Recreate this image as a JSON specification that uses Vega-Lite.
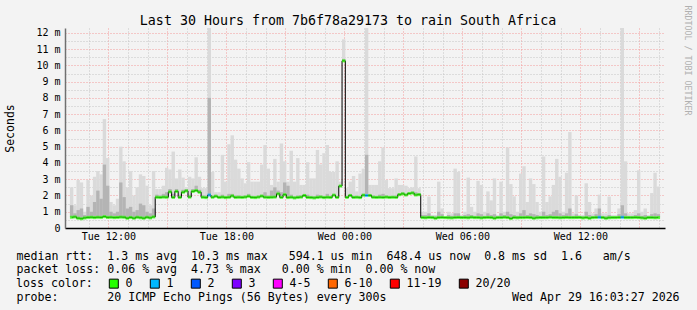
{
  "$schema": "https://vega.github.io/schema/vega-lite/v6.json",
  "width": 600,
  "height": 200,
  "autosize": {"type": "none"},
  "padding": {"left": 65, "top": 28, "right": 32, "bottom": 82},
  "background": "#f3f3f3",
  "config": {"view": {"fill": "white", "stroke": null}, "font": "DejaVu Sans Mono"},
  "title": {"text": "Last 30 Hours from 7b6f78a29173 to rain South Africa", "font": "DejaVu Sans Mono", "fontSize": 13.3, "fontWeight": "normal", "color": "black", "anchor": "middle", "dx": -17, "dy": 26, "offset": 4},
  "datasets": {
    "s": [
      {"t":608,"m":0.66,"h":2.5,"d":1.4},{"t":618,"m":0.68,"h":1.4,"d":0.9},{"t":628,"m":0.6,"h":2.95,"d":1.1},{"t":638,"m":0.57,"h":2.8,"d":1.2},
      {"t":648,"m":0.62,"h":1.0,"d":0.8},{"t":658,"m":0.65,"h":2.95,"d":1.3},{"t":668,"m":0.66,"h":2.0,"d":1.0},{"t":678,"m":0.64,"h":3.15,"d":1.6},
      {"t":688,"m":0.66,"h":3.5,"d":2.3},{"t":698,"m":0.65,"h":3.3,"d":1.8},{"t":708,"m":0.7,"h":6.7,"d":3.9},{"t":718,"m":0.65,"h":4.3,"d":2.6},
      {"t":728,"m":0.66,"h":1.6,"d":1.0},{"t":738,"m":0.64,"h":1.4,"d":0.9},{"t":748,"m":0.65,"h":1.8,"d":1.0},{"t":758,"m":0.67,"h":5.0,"d":2.8},
      {"t":768,"m":0.66,"h":4.1,"d":1.9},{"t":778,"m":0.6,"h":2.5,"d":1.2},{"t":788,"m":0.65,"h":3.5,"d":1.3},{"t":798,"m":0.6,"h":2.0,"d":1.0},
      {"t":808,"m":0.66,"h":2.5,"d":1.1},{"t":818,"m":0.63,"h":3.3,"d":1.5},{"t":828,"m":0.6,"h":3.2,"d":1.4},{"t":838,"m":0.66,"h":2.6,"d":1.0},
      {"t":848,"m":0.62,"h":1.4,"d":0.9},{"t":858,"m":0.68,"h":3.5,"d":1.2},{"t":868,"m":1.89,"h":2.4,"d":2.05},{"t":878,"m":1.88,"h":2.4,"d":2.0},
      {"t":888,"m":1.9,"h":2.6,"d":2.1},{"t":898,"m":1.89,"h":3.7,"d":2.2},{"t":908,"m":2.22,"h":3.6,"d":2.4},{"t":918,"m":1.88,"h":4.7,"d":2.1},
      {"t":928,"m":2.25,"h":3.05,"d":2.4},{"t":938,"m":1.88,"h":3.6,"d":2.05},{"t":948,"m":2.2,"h":3.1,"d":2.35},{"t":958,"m":2.28,"h":2.45,"d":2.4},
      {"t":968,"m":1.9,"h":3.15,"d":2.05},{"t":978,"m":2.25,"h":3.05,"d":2.4},{"t":988,"m":2.3,"h":4.35,"d":2.6},{"t":998,"m":2.2,"h":3.15,"d":2.35},
      {"t":1008,"m":1.89,"h":2.45,"d":2.0},{"t":1018,"m":1.87,"h":2.45,"d":2.0},{"t":1028,"m":2.03,"h":12.3,"d":8.0,"p":1},{"t":1038,"m":1.89,"h":3.45,"d":2.0},
      {"t":1048,"m":1.95,"h":2.2,"d":2.05},{"t":1058,"m":1.88,"h":2.2,"d":1.98},{"t":1068,"m":1.9,"h":4.5,"d":2.05},{"t":1078,"m":1.87,"h":2.85,"d":1.98},
      {"t":1088,"m":1.89,"h":5.15,"d":2.1},{"t":1098,"m":1.97,"h":5.7,"d":2.1},{"t":1108,"m":1.88,"h":4.2,"d":2.0},{"t":1118,"m":1.89,"h":3.65,"d":2.0},
      {"t":1128,"m":1.88,"h":3.05,"d":1.98},{"t":1138,"m":1.9,"h":2.75,"d":2.0},{"t":1148,"m":1.95,"h":4.05,"d":2.1},{"t":1158,"m":1.88,"h":2.85,"d":1.98},
      {"t":1168,"m":1.87,"h":2.85,"d":1.98},{"t":1178,"m":1.9,"h":2.85,"d":2.0},{"t":1188,"m":1.96,"h":3.9,"d":2.05},{"t":1198,"m":1.89,"h":5.1,"d":2.2},
      {"t":1208,"m":1.88,"h":3.65,"d":2.0},{"t":1218,"m":1.89,"h":2.65,"d":2.3},{"t":1228,"m":1.9,"h":4.25,"d":2.5},{"t":1238,"m":2.1,"h":2.85,"d":2.3},
      {"t":1248,"m":1.88,"h":5.2,"d":2.2},{"t":1258,"m":2.05,"h":4.1,"d":2.8},{"t":1268,"m":1.87,"h":2.85,"d":2.6},{"t":1278,"m":1.89,"h":4.75,"d":2.05},
      {"t":1288,"m":1.85,"h":2.85,"d":1.95},{"t":1298,"m":1.88,"h":4.3,"d":2.0},{"t":1308,"m":1.9,"h":2.65,"d":2.0},{"t":1318,"m":2.0,"h":2.65,"d":2.1},
      {"t":1328,"m":1.88,"h":4.05,"d":2.05},{"t":1338,"m":1.87,"h":3.05,"d":1.98},{"t":1348,"m":1.85,"h":3.05,"d":1.95},{"t":1358,"m":1.88,"h":4.8,"d":2.05},
      {"t":1368,"m":1.9,"h":3.9,"d":2.0},{"t":1378,"m":1.87,"h":4.6,"d":1.98},{"t":1388,"m":1.89,"h":5.1,"d":2.1},{"t":1398,"m":1.88,"h":3.45,"d":1.98},
      {"t":1408,"m":2.02,"h":3.45,"d":2.1},{"t":1418,"m":1.88,"h":4.1,"d":1.98},{"t":1428,"m":2.58,"h":2.85,"d":2.65},{"t":1438,"m":10.28,"h":11.6,"d":10.4},
      {"t":1448,"m":1.88,"h":2.45,"d":1.98},{"t":1458,"m":2.0,"h":2.85,"d":2.1},{"t":1468,"m":1.88,"h":3.2,"d":1.98},{"t":1478,"m":1.89,"h":2.25,"d":1.98},
      {"t":1488,"m":1.87,"h":3.35,"d":1.98},{"t":1498,"m":2.02,"h":3.65,"d":2.1},{"t":1508,"m":2.0,"h":12.3,"d":4.5,"p":1},{"t":1518,"m":2.0,"h":2.65,"d":2.1},
      {"t":1528,"m":1.89,"h":2.65,"d":2.0},{"t":1538,"m":1.88,"h":2.65,"d":1.98},{"t":1548,"m":1.89,"h":4.1,"d":2.05},{"t":1558,"m":1.88,"h":4.95,"d":2.1},
      {"t":1568,"m":1.9,"h":2.95,"d":2.0},{"t":1578,"m":1.88,"h":2.45,"d":1.98},{"t":1588,"m":1.89,"h":2.45,"d":1.98},{"t":1598,"m":1.88,"h":3.05,"d":2.0},
      {"t":1608,"m":2.05,"h":2.65,"d":2.15},{"t":1618,"m":2.1,"h":2.65,"d":2.2},{"t":1628,"m":2.03,"h":2.6,"d":2.1},{"t":1638,"m":2.12,"h":2.45,"d":2.2},
      {"t":1648,"m":2.15,"h":2.5,"d":2.25},{"t":1658,"m":2.03,"h":4.4,"d":2.2},{"t":1668,"m":2.05,"h":2.45,"d":2.15},{"t":1678,"m":0.64,"h":1.0,"d":0.8},
      {"t":1688,"m":0.63,"h":1.0,"d":0.8},{"t":1698,"m":0.65,"h":1.93,"d":0.9},{"t":1708,"m":0.64,"h":0.8,"d":0.75},{"t":1718,"m":0.6,"h":0.8,"d":0.72},
      {"t":1728,"m":0.64,"h":2.85,"d":1.0},{"t":1738,"m":0.65,"h":1.2,"d":0.85},{"t":1748,"m":0.64,"h":0.7,"d":0.68},{"t":1758,"m":0.63,"h":1.0,"d":0.8},
      {"t":1768,"m":0.62,"h":0.9,"d":0.75},{"t":1778,"m":0.64,"h":3.65,"d":0.9},{"t":1788,"m":0.65,"h":3.45,"d":0.9},{"t":1798,"m":0.64,"h":0.8,"d":0.72},
      {"t":1808,"m":0.64,"h":1.0,"d":0.8},{"t":1818,"m":0.63,"h":3.1,"d":0.85},{"t":1828,"m":0.66,"h":1.3,"d":0.8},{"t":1838,"m":0.64,"h":1.0,"d":0.75},
      {"t":1848,"m":0.64,"h":2.9,"d":0.9},{"t":1858,"m":0.62,"h":2.65,"d":0.85},{"t":1868,"m":0.64,"h":1.0,"d":0.75},{"t":1878,"m":0.65,"h":2.25,"d":0.9},
      {"t":1888,"m":0.64,"h":1.7,"d":0.8},{"t":1898,"m":0.6,"h":3.05,"d":0.85},{"t":1908,"m":0.64,"h":0.8,"d":0.72},{"t":1918,"m":0.64,"h":2.85,"d":0.9},
      {"t":1928,"m":0.66,"h":1.0,"d":0.8},{"t":1938,"m":0.64,"h":4.95,"d":1.0},{"t":1948,"m":0.58,"h":2.7,"d":0.85},{"t":1958,"m":0.64,"h":1.95,"d":0.8},
      {"t":1968,"m":0.63,"h":1.0,"d":0.75},{"t":1978,"m":0.64,"h":3.35,"d":0.9},{"t":1988,"m":0.64,"h":3.8,"d":1.1},{"t":1998,"m":0.65,"h":1.6,"d":0.8},
      {"t":2008,"m":0.64,"h":3.05,"d":0.9},{"t":2018,"m":0.6,"h":2.7,"d":0.85},{"t":2028,"m":0.63,"h":1.6,"d":0.8},{"t":2038,"m":0.64,"h":1.0,"d":0.75},
      {"t":2048,"m":0.64,"h":4.4,"d":1.0},{"t":2058,"m":0.64,"h":1.6,"d":0.8},{"t":2068,"m":0.66,"h":1.95,"d":0.85},{"t":2078,"m":0.64,"h":2.65,"d":1.0},
      {"t":2088,"m":0.64,"h":4.25,"d":1.1},{"t":2098,"m":0.63,"h":3.15,"d":0.9},{"t":2108,"m":0.64,"h":1.0,"d":0.8},{"t":2118,"m":0.65,"h":3.4,"d":0.9},
      {"t":2128,"m":0.64,"h":5.9,"d":1.2},{"t":2138,"m":0.64,"h":0.9,"d":0.75},{"t":2148,"m":0.64,"h":2.0,"d":0.85},{"t":2158,"m":0.65,"h":0.8,"d":0.72},
      {"t":2168,"m":0.62,"h":0.8,"d":0.72},{"t":2178,"m":0.64,"h":2.75,"d":1.0},{"t":2188,"m":0.6,"h":1.6,"d":0.8},{"t":2198,"m":0.64,"h":0.9,"d":0.75},
      {"t":2208,"m":0.65,"h":1.2,"d":0.85},{"t":2218,"m":0.66,"h":2.05,"d":1.2,"p":1},{"t":2228,"m":0.64,"h":0.9,"d":0.75},{"t":2238,"m":0.6,"h":0.9,"d":0.72},
      {"t":2248,"m":0.63,"h":1.93,"d":0.8},{"t":2258,"m":0.64,"h":0.8,"d":0.72},{"t":2268,"m":0.64,"h":0.8,"d":0.72},{"t":2278,"m":0.65,"h":1.2,"d":0.85},
      {"t":2288,"m":0.66,"h":12.3,"d":1.4,"p":1},{"t":2298,"m":0.64,"h":4.1,"d":0.9},{"t":2308,"m":0.64,"h":0.9,"d":0.75},{"t":2318,"m":0.64,"h":0.9,"d":0.75},
      {"t":2328,"m":0.65,"h":1.1,"d":0.8},{"t":2338,"m":0.64,"h":3.55,"d":0.9},{"t":2348,"m":0.62,"h":1.0,"d":0.75},{"t":2358,"m":0.6,"h":1.2,"d":0.8},
      {"t":2368,"m":0.64,"h":0.8,"d":0.72},{"t":2378,"m":0.64,"h":2.15,"d":0.85},{"t":2388,"m":0.63,"h":3.4,"d":0.9},{"t":2398,"m":0.64,"h":2.55,"d":0.85}
    ],
    "loss": [{"c":"0"},{"c":"1"},{"c":"2"},{"c":"3"},{"c":"4-5"},{"c":"6-10"},{"c":"11-19"},{"c":"20/20"}]
  },
  "resolve": {"axis": {"x": "independent", "y": "independent"}},
  "layer": [
    {
      "data": {"name": "s"},
      "mark": {"type": "bar", "color": "#dadada", "width": 3.4, "clip": true},
      "encoding": {
        "x": {"field": "t", "type": "quantitative", "scale": {"domain": [603, 2403], "nice": false, "zero": false},
          "axis": {"orient": "bottom", "values": [660,780,840,960,1020,1140,1200,1320,1380,1500,1560,1680,1740,1860,1920,2040,2100,2220,2280,2400],
            "grid": true, "gridColor": "#c4c4c4", "gridDash": [1, 2], "labels": false, "ticks": false, "domain": false,
            "title": ["median rtt:\u00a0\u00a01.3 ms avg\u00a0\u00a010.3 ms max\u00a0\u00a0\u00a0594.1 us min\u00a0\u00a0648.4 us now\u00a0\u00a00.8 ms sd\u00a0\u00a01.6\u00a0\u00a0\u00a0am/s",
                      "packet loss: 0.06 % avg\u00a0\u00a04.73 % max\u00a0\u00a0\u00a00.00 % min\u00a0\u00a00.00 % now"],
            "titleFont": "DejaVu Sans Mono", "titleFontSize": 11.6, "titleFontWeight": "normal", "titleColor": "black",
            "titleX": -49, "titleY": 31, "titleAlign": "left", "titleBaseline": "alphabetic", "titleLineHeight": 13.6}},
        "y": {"field": "h", "type": "quantitative", "scale": {"domain": [0, 12.3], "nice": false, "zero": true},
          "axis": {"orient": "left", "values": [0.5,1.5,2.5,3.5,4.5,5.5,6.5,7.5,8.5,9.5,10.5,11.5], "grid": true, "gridColor": "#c4c4c4", "gridDash": [1, 2],
            "labels": false, "ticks": false, "domain": false, "title": null}},
        "y2": {"field": "m"}
      }
    },
    {
      "data": {"name": "s"},
      "mark": {"type": "bar", "color": "#b4b4b4", "width": 3.4, "clip": true},
      "encoding": {
        "x": {"field": "t", "type": "quantitative",
          "axis": {"orient": "bottom", "values": [720,900,1080,1260,1440,1620,1800,1980,2160,2340],
            "grid": true, "gridColor": "#f39a9a", "gridDash": [1, 2], "ticks": false, "domain": true, "domainColor": "black", "domainWidth": 1.5,
            "labelExpr": "{'720':'Tue 12:00','1080':'Tue 18:00','1440':'Wed 00:00','1800':'Wed 06:00','2160':'Wed 12:00'}[datum.value] || ''",
            "labelFont": "DejaVu Sans Mono", "labelFontSize": 10, "labelColor": "black", "labelPadding": 3, "labelOverlap": false, "labelFlush": false,
            "title": "probe:\u00a0\u00a0\u00a0\u00a0\u00a0\u00a0\u00a020 ICMP Echo Pings (56 Bytes) every 300s\u00a0\u00a0\u00a0\u00a0\u00a0\u00a0\u00a0\u00a0\u00a0\u00a0\u00a0\u00a0\u00a0\u00a0\u00a0\u00a0\u00a0\u00a0Wed Apr 29 16:03:27 2026",
            "titleFont": "DejaVu Sans Mono", "titleFontSize": 11.6, "titleFontWeight": "normal", "titleColor": "black",
            "titleX": -49, "titleY": 72.3, "titleAlign": "left", "titleBaseline": "alphabetic"}},
        "y": {"field": "d", "type": "quantitative",
          "axis": {"orient": "left", "values": [0,1,2,3,4,5,6,7,8,9,10,11,12], "grid": true, "gridColor": "#f39a9a", "gridDash": [1, 2],
            "ticks": false, "domain": true, "domainColor": "#707070", "domainWidth": 1.5,
            "labelExpr": "datum.value == 0 ? '0' : datum.value + ' m'", "labelFont": "DejaVu Sans Mono", "labelFontSize": 10, "labelColor": "black", "labelPadding": 5,
            "title": "Seconds", "titleFont": "DejaVu Sans Mono", "titleFontSize": 11.5, "titleFontWeight": "normal", "titleColor": "black", "titlePadding": 20}},
        "y2": {"field": "m"}
      }
    },
    {
      "data": {"name": "s"},
      "mark": {"type": "line", "interpolate": "step", "color": "black", "strokeWidth": 1},
      "encoding": {
        "x": {"field": "t", "type": "quantitative", "axis": null},
        "y": {"field": "m", "type": "quantitative",
          "axis": {"orient": "right", "labels": false, "ticks": false, "domain": false, "grid": false,
            "title": "RRDTOOL / TOBI OETIKER", "titleFont": "DejaVu Sans Mono", "titleFontSize": 8.3, "titleFontWeight": "normal", "titleColor": "#b0b0b0",
            "titleAngle": 90, "titleX": 21.5, "titleY": 32, "titleAlign": "center", "titleBaseline": "middle"}}
      }
    },
    {
      "data": {"name": "s"},
      "mark": {"type": "tick", "orient": "horizontal", "size": 3.4, "thickness": 3},
      "encoding": {
        "x": {"field": "t", "type": "quantitative", "axis": null},
        "y": {"field": "m", "type": "quantitative", "axis": null},
        "color": {"condition": {"test": "datum.p == 1", "value": "#00b8ff"}, "value": "#26ff00"}
      }
    },
    {
      "data": {"name": "loss"},
      "mark": {"type": "square", "opacity": 0, "stroke": "black", "strokeWidth": 1},
      "encoding": {
        "color": {"field": "c", "type": "nominal",
          "scale": {"domain": ["0","1","2","3","4-5","6-10","11-19","20/20"], "range": ["#26ff00","#00b8ff","#0059ff","#7e00ff","#ff00ff","#ff6600","#ff0000","#8b0000"]},
          "legend": {"orient": "none", "legendX": -49, "legendY": 249.5, "direction": "horizontal",
            "title": "loss color:", "titleOrient": "left", "titleFont": "DejaVu Sans Mono", "titleFontSize": 11.6, "titleFontWeight": "normal", "titleColor": "black",
            "titleAnchor": "middle", "titleBaseline": "middle", "titlePadding": 15,
            "symbolType": "square", "symbolSize": 81, "symbolStrokeColor": "black", "symbolStrokeWidth": 1, "symbolOpacity": 1,
            "labelFont": "DejaVu Sans Mono", "labelFontSize": 11.6, "labelColor": "black", "labelOffset": 6, "columnPadding": 15, "padding": 0}}
      }
    }
  ]
}
